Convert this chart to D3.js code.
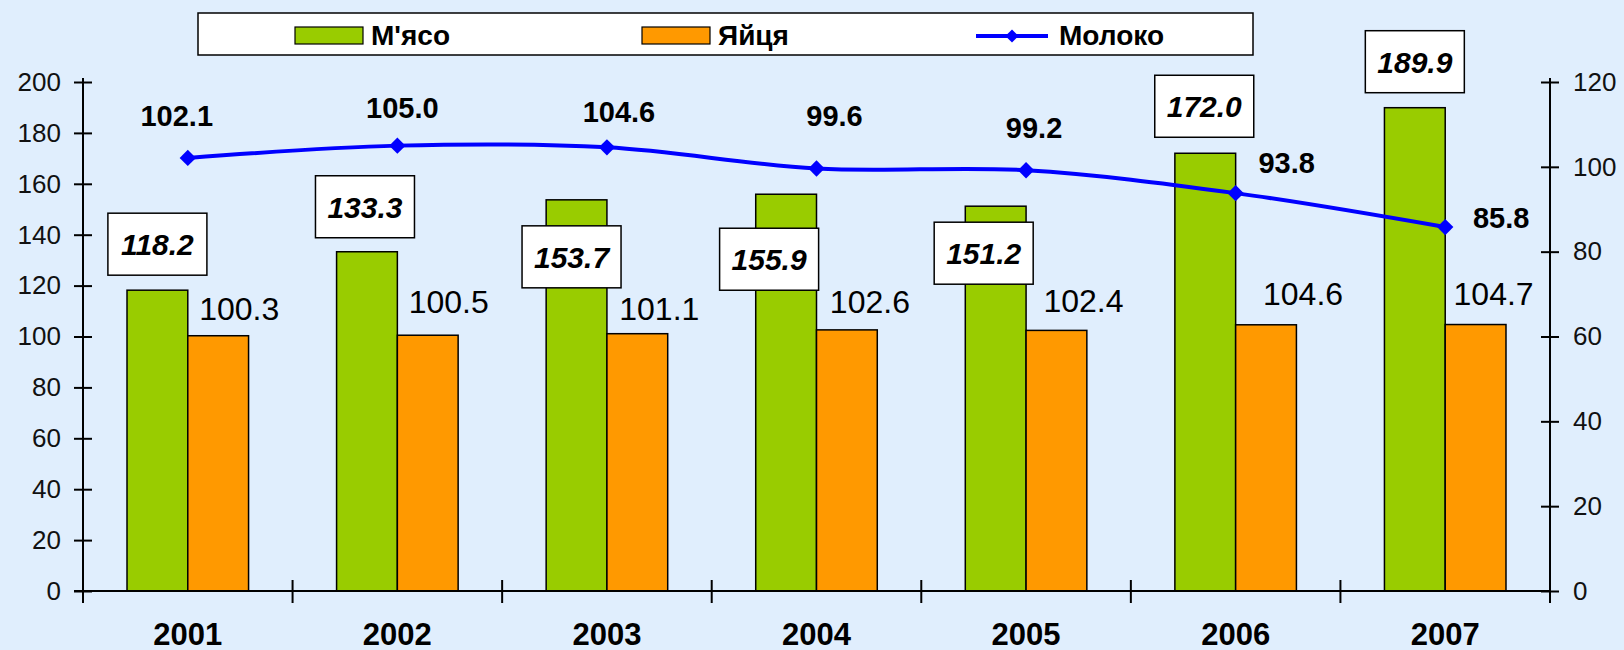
<!DOCTYPE html>
<html>
<head>
<meta charset="utf-8">
<script src="https://cdn.jsdelivr.net/npm/d3@7"></script>
<style>
  html, body { margin: 0; padding: 0; background: #e0eefd; }
  svg { display: block; font-family: "Liberation Sans", Arial, sans-serif; }
  .axis line, .axis path { stroke: #000; stroke-width: 2; }
  .bar { stroke: #000; stroke-width: 1.5; }
</style>
</head>
<body>
<svg id="chart" width="1624" height="650"></svg>
<script>
// data
var years = ["2001", "2002", "2003", "2004", "2005", "2006", "2007"];
var meat = [118.2, 133.3, 153.7, 155.9, 151.2, 172.0, 189.9];
var eggs = [100.3, 100.5, 101.1, 102.6, 102.4, 104.6, 104.7];
var milk = [102.1, 105.0, 104.6, 99.6, 99.2, 93.8, 85.8];
var leftTicks = [0, 20, 40, 60, 80, 100, 120, 140, 160, 180, 200];
var rightTicks = [0, 20, 40, 60, 80, 100, 120];
var seriesNames = ["М'ясо", "Яйця", "Молоко"];

// label placement (pixels), hand placed like the original
var meatLabelPos = [[0, -46], [-2, -45], [-5, 57], [-17, 65], [-12, 47], [-1, -47], [0, -46]];
var eggLabelPos = [[21, -16], [21, -22], [22, -14], [23, -17], [27, -18], [37, -20], [18, -20]];
var milkLabelPos = [[-11, -32], [5, -28], [12, -25], [18, -43], [8, -32], [51, -20], [56, 1]];

var green = "#99cc00", orange = "#ff9900", blue = "#0000ff";

var svg = d3.select("#chart");
var pL = 83, pR = 1550, pT = 82, pB = 591;

var x = d3.scaleBand().domain(years).range([pL, pR])
          .paddingInner(0.42).paddingOuter(0.21);
var x1 = d3.scaleBand().domain(["meat", "eggs"]).range([0, x.bandwidth()]);
var y = d3.scaleLinear().domain([0, 200]).range([pB, pT]);
var y2 = d3.scaleLinear().domain([0, 120]).range([pB, pT]);

// legend
var lg = svg.append("g");
lg.append("rect").attr("x", 198).attr("y", 13).attr("width", 1055).attr("height", 42)
  .attr("fill", "#fff").attr("stroke", "#000").attr("stroke-width", 1.5);
lg.append("rect").attr("x", 295).attr("y", 27).attr("width", 68).attr("height", 17)
  .attr("fill", green).attr("stroke", "#000").attr("stroke-width", 1.2);
lg.append("rect").attr("x", 642).attr("y", 27).attr("width", 68).attr("height", 17)
  .attr("fill", orange).attr("stroke", "#000").attr("stroke-width", 1.2);
lg.append("line").attr("x1", 976).attr("x2", 1048).attr("y1", 36).attr("y2", 36)
  .attr("stroke", blue).attr("stroke-width", 4);
lg.append("path").attr("d", d3.symbol(d3.symbolDiamond2, 110)())
  .attr("transform", "translate(1012,36)").attr("fill", blue);
[[371, seriesNames[0]], [718, seriesNames[1]], [1059, seriesNames[2]]].forEach(function(d) {
  lg.append("text").attr("x", d[0]).attr("y", 45)
    .attr("font-size", 28).attr("font-weight", "bold").text(d[1]);
});

// bars
var groups = svg.selectAll("g.year").data(years).enter().append("g")
  .attr("class", "year")
  .attr("transform", function(d) { return "translate(" + x(d) + ",0)"; });

groups.append("rect").attr("class", "bar")
  .attr("x", x1("meat")).attr("width", x1.bandwidth())
  .attr("y", function(d, i) { return y(meat[i]); })
  .attr("height", function(d, i) { return pB - y(meat[i]); })
  .attr("fill", green);

groups.append("rect").attr("class", "bar")
  .attr("x", x1("eggs")).attr("width", x1.bandwidth())
  .attr("y", function(d, i) { return y(eggs[i]); })
  .attr("height", function(d, i) { return pB - y(eggs[i]); })
  .attr("fill", orange);

// axes
var yAxis = svg.append("g").attr("class", "axis")
  .attr("transform", "translate(" + pL + ",0)")
  .call(d3.axisLeft(y).tickValues(leftTicks).tickSize(9).tickPadding(13));
yAxis.selectAll(".tick line").attr("x2", -9).attr("x1", 9);
var y2Axis = svg.append("g").attr("class", "axis")
  .attr("transform", "translate(" + pR + ",0)")
  .call(d3.axisRight(y2).tickValues(rightTicks).tickSize(9).tickPadding(14));
y2Axis.selectAll(".tick line").attr("x1", -9).attr("x2", 9);
[yAxis, y2Axis].forEach(function(a) {
  a.select(".domain").attr("d", "M0," + (pT - 4) + "V" + (pB + 12));
  a.selectAll("text").attr("font-size", 26).attr("fill", "#111")
    .attr("font-family", "Liberation Sans, Arial, sans-serif");
});

var xg = svg.append("g").attr("class", "axis");
xg.append("line").attr("x1", pL - 9).attr("x2", pR).attr("y1", pB).attr("y2", pB);
d3.range(years.length + 1).forEach(function(i) {
  var xx = pL + i * x.step();
  xg.append("line").attr("x1", xx).attr("x2", xx).attr("y1", pB - 11).attr("y2", pB + 12);
});
svg.selectAll("text.year").data(years).enter().append("text")
  .attr("x", function(d) { return x(d) + x.bandwidth() / 2; })
  .attr("y", 645).attr("text-anchor", "middle")
  .attr("font-size", 31).attr("font-weight", "bold").text(function(d) { return d; });

// milk line
var cx = function(i) { return x(years[i]) + x.bandwidth() / 2; };
var line = d3.line().x(function(d, i) { return cx(i); }).y(function(d) { return y2(d); })
  .curve(d3.curveCatmullRom.alpha(0.5));
svg.append("path").datum(milk).attr("d", line)
  .attr("fill", "none").attr("stroke", blue).attr("stroke-width", 4);
svg.selectAll("path.mark").data(milk).enter().append("path")
  .attr("d", d3.symbol(d3.symbolDiamond2, 170)())
  .attr("transform", function(d, i) { return "translate(" + cx(i) + "," + y2(d) + ")"; })
  .attr("fill", blue);

// labels
var fmt = d3.format(".1f");
meat.forEach(function(v, i) {
  var bx = x(years[i]) + x1("meat") + x1.bandwidth() / 2 + meatLabelPos[i][0];
  var by = y(v) + meatLabelPos[i][1];
  svg.append("rect").attr("x", bx - 49.5).attr("y", by - 31).attr("width", 99).attr("height", 62)
    .attr("fill", "#fff").attr("stroke", "#000").attr("stroke-width", 1.5);
  svg.append("text").attr("x", bx).attr("y", by + 11).attr("text-anchor", "middle")
    .attr("font-size", 30).attr("font-weight", "bold").attr("font-style", "italic")
    .text(fmt(v));
});
eggs.forEach(function(v, i) {
  svg.append("text")
    .attr("x", x(years[i]) + x1("eggs") + x1.bandwidth() / 2 + eggLabelPos[i][0])
    .attr("y", y(v) + eggLabelPos[i][1])
    .attr("text-anchor", "middle").attr("font-size", 32).text(fmt(v));
});
milk.forEach(function(v, i) {
  svg.append("text")
    .attr("x", cx(i) + milkLabelPos[i][0])
    .attr("y", y2(v) + milkLabelPos[i][1])
    .attr("text-anchor", "middle").attr("font-size", 29).attr("font-weight", "bold")
    .text(fmt(v));
});
</script>
</body>
</html>
